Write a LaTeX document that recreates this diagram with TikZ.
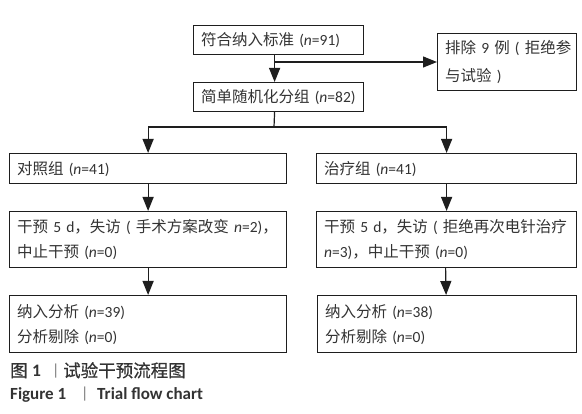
\documentclass[tikz,border=0pt]{standalone}
\usepackage{fontspec}
\setmainfont{Noto Sans CJK SC}
\newfontfamily\latf{Carlito}
\newfontfamily\capcjk{Noto Sans CJK SC}[FakeBold=0.5]
\newcommand{\la}[1]{{\latf #1}}
\usetikzlibrary{arrows.meta}
\definecolor{ink}{HTML}{333333}
\definecolor{edge}{HTML}{1E1E1E}
\definecolor{barc}{HTML}{777777}
\tikzset{
  box/.style={draw=edge, line width=1.2pt, anchor=north west, align=left,
    inner xsep=7.5pt, inner ysep=0pt, text=ink,
    font=\fontsize{15.5}{25}\selectfont},
  arr/.style={draw=edge, line width=1.2pt, -{Triangle[length=14pt,width=11pt]}},
  ln/.style={draw=edge, line width=1.2pt},
  captxt/.style={anchor=base west, inner sep=0pt, text=ink},
}
\begin{document}
\begin{tikzpicture}[x=1pt,y=-1pt]
\useasboundingbox (0,0) rectangle (582,414);
% boxes
\node[box, text width=155pt, minimum height=29pt] (b1) at (193,25) {\mbox{符合纳入标准 \la{(\textit{n}=91)}}};
\node[box, text width=124pt, minimum height=57pt, font=\fontsize{15.5}{28}\selectfont] (ex) at (437,33) {\mbox{排除 \la{9} 例 \la{(} 拒绝参}\\\mbox{与试验 \la{)}}};
\node[box, text width=155pt, minimum height=29pt] (b2) at (193,82) {\mbox{简单随机化分组 \la{(\textit{n}=82)}}};
\node[box, text width=262pt, minimum height=30pt] (c1) at (9,153) {\mbox{对照组 \la{(\textit{n}=41)}}};
\node[box, text width=245pt, minimum height=30pt] (t1) at (316,153) {\mbox{治疗组 \la{(\textit{n}=41)}}};
\node[box, text width=262pt, minimum height=56pt] (c2) at (9,211) {\mbox{干预 \la{5 d}，失访 \la{(} 手术方案改变 \la{\textit{n}=2)}，}\\\mbox{中止干预 \la{(\textit{n}=0)}}};
\node[box, text width=245pt, minimum height=56pt] (t2) at (316,211) {\mbox{干预 \la{5 d}，失访 \la{(} 拒绝再次电针治疗}\\\mbox{\la{\textit{n}=3)}，中止干预 \la{(\textit{n}=0)}}};
\node[box, text width=262pt, minimum height=57pt] (c3) at (9,295) {\mbox{纳入分析 \la{(\textit{n}=39)}}\\\mbox{分析剔除 \la{(\textit{n}=0)}}};
\node[box, text width=244pt, minimum height=57pt] (t3) at (317,295) {\mbox{纳入分析 \la{(\textit{n}=38)}}\\\mbox{分析剔除 \la{(\textit{n}=0)}}};
% connectors
\coordinate (j) at (274,62);
\coordinate (s) at (274,127);
\draw[arr] ([xshift=-4pt]b1.south) -- ([xshift=-4pt]b2.north);
\draw[arr] (j) -- (ex.west |- j);
\draw[ln] ([xshift=-4pt]b2.south) -- (s);
\draw[arr] (s) -| (c1.north);
\draw[arr] (s) -| (t1.north);
\draw[arr] (c1.south) -- (c2.north);
\draw[arr] (t1.south) -- (t2.north);
\draw[arr] (c2.south) -- (c3.north);
\draw[arr] ([xshift=-1pt]t2.south) -- ([xshift=-1pt]t3.north);
% caption
\node[captxt, font=\capcjk\fontsize{17.5}{17.5}\selectfont] (cz1) at (10,377) {图};
\node[captxt, font=\latf\bfseries\fontsize{17.5}{17.5}\selectfont] (cz2) at (32,377) {1};
\node[captxt, text=barc, font=\latf\fontsize{16}{16}\selectfont] (cz3) at (52,376) {|};
\node[captxt, font=\capcjk\fontsize{17.5}{17.5}\selectfont] (cz4) at (63,377) {试验干预流程图};
\node[captxt, font=\latf\bfseries\fontsize{17}{17}\selectfont] (ce1) at (10,400) {Figure 1};
\node[captxt, text=barc, font=\latf\fontsize{16}{16}\selectfont] (ce2) at (81,399) {|};
\node[captxt, font=\latf\bfseries\fontsize{17}{17}\selectfont] (ce3) at (97,400) {Trial flow chart};
\end{tikzpicture}
\end{document}
